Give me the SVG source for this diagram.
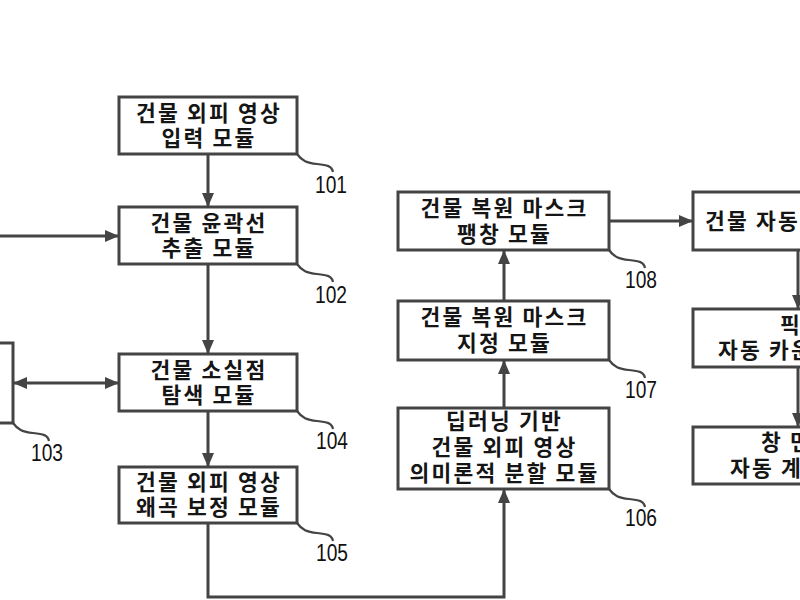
<svg xmlns="http://www.w3.org/2000/svg" width="800" height="600" viewBox="0 0 800 600">
<style>
.box{fill:#fff;stroke:#444;stroke-width:3}
.t{font-family:"Noto Sans CJK KR","Noto Sans",sans-serif;font-size:21.5px;font-weight:700;letter-spacing:2.2px;fill:#151515;text-anchor:middle}
.r{font-family:"Noto Sans CJK KR","Noto Sans",sans-serif;font-size:21.5px;font-weight:700;letter-spacing:2.2px;fill:#151515}
.n{font-family:"Liberation Sans",Arial,sans-serif;font-size:23px;fill:#111;text-anchor:middle}
.c{fill:none;stroke:#444;stroke-width:3}
.ld{fill:none;stroke:#444;stroke-width:2.2}
</style>
<defs>
<marker id="ah" markerUnits="userSpaceOnUse" markerWidth="14" markerHeight="12" refX="13" refY="6" orient="auto-start-reverse">
<path d="M0,0 L14,6 L0,12 Z" fill="#444"/>
</marker>
</defs>
<rect width="800" height="600" fill="#fff"/>
<g id="connectors">
<line class="c" x1="208" y1="154" x2="208" y2="206" marker-end="url(#ah)"/>
<line class="c" x1="208" y1="264" x2="208" y2="353" marker-end="url(#ah)"/>
<line class="c" x1="208" y1="411" x2="208" y2="466" marker-end="url(#ah)"/>
<line class="c" x1="0" y1="236" x2="118" y2="236" marker-end="url(#ah)"/>
<line class="c" x1="14" y1="383" x2="118" y2="383" marker-start="url(#ah)" marker-end="url(#ah)"/>
<polyline class="c" points="208,523 208,597 504,597 504,490" marker-end="url(#ah)"/>
<line class="c" x1="504" y1="408" x2="504" y2="361" marker-end="url(#ah)"/>
<line class="c" x1="504" y1="301" x2="504" y2="251" marker-end="url(#ah)"/>
<line class="c" x1="609" y1="221" x2="692" y2="221" marker-end="url(#ah)"/>
<line class="c" x1="798" y1="250" x2="798" y2="308" marker-end="url(#ah)"/>
<line class="c" x1="798" y1="367" x2="798" y2="426" marker-end="url(#ah)"/>
</g>
<g id="n101">
<rect class="box" x="119" y="97" width="178" height="57"/>
<text class="t" x="209" y="121">건물 외피 영상</text>
<text class="t" x="209" y="146">입력 모듈</text>
<path class="ld" d="M297,154 C302,161 307,163 317,164 C327,165 332,166 333,172"/>
<text class="n" x="331" y="193" textLength="32" lengthAdjust="spacingAndGlyphs">101</text>
</g>
<g id="n102">
<rect class="box" x="119" y="207" width="178" height="57"/>
<text class="t" x="209" y="231">건물 윤곽선</text>
<text class="t" x="209" y="256">추출 모듈</text>
<path class="ld" d="M297,264 C302,271 307,273 317,274 C327,275 332,276 333,282"/>
<text class="n" x="331" y="303" textLength="32" lengthAdjust="spacingAndGlyphs">102</text>
</g>
<g id="n103">
<rect class="box" x="-100" y="343" width="113" height="80"/>
<path class="ld" d="M13,423 C18,430 23,432 33,433 C43,434 48,435 49,441"/>
<text class="n" x="47" y="461" textLength="32" lengthAdjust="spacingAndGlyphs">103</text>
</g>
<g id="n104">
<rect class="box" x="119" y="354" width="178" height="57"/>
<text class="t" x="209" y="378">건물 소실점</text>
<text class="t" x="209" y="403">탐색 모듈</text>
<path class="ld" d="M297,411 C302,418 307,420 317,421 C327,422 332,423 333,429"/>
<text class="n" x="332" y="449" textLength="32" lengthAdjust="spacingAndGlyphs">104</text>
</g>
<g id="n105">
<rect class="box" x="119" y="467" width="178" height="56"/>
<text class="t" x="209" y="490">건물 외피 영상</text>
<text class="t" x="209" y="515">왜곡 보정 모듈</text>
<path class="ld" d="M297,523 C302,530 307,532 317,533 C327,534 332,535 333,541"/>
<text class="n" x="332" y="561" textLength="32" lengthAdjust="spacingAndGlyphs">105</text>
</g>
<g id="n106">
<rect class="box" x="398" y="408" width="211" height="81"/>
<text class="t" x="504.5" y="429">딥러닝 기반</text>
<text class="t" x="504.5" y="455">건물 외피 영상</text>
<text class="t" x="504.5" y="481">의미론적 분할 모듈</text>
<path class="ld" d="M609,489 C614,496 619,498 629,499 C639,500 644,501 645,507"/>
<text class="n" x="641" y="526" textLength="32" lengthAdjust="spacingAndGlyphs">106</text>
</g>
<g id="n107">
<rect class="box" x="398" y="301" width="211" height="59"/>
<text class="t" x="504.5" y="325">건물 복원 마스크</text>
<text class="t" x="504.5" y="351">지정 모듈</text>
<path class="ld" d="M609,360 C614,367 619,369 629,370 C639,371 644,372 645,378"/>
<text class="n" x="641" y="398" textLength="32" lengthAdjust="spacingAndGlyphs">107</text>
</g>
<g id="n108">
<rect class="box" x="398" y="192" width="211" height="58"/>
<text class="t" x="504.5" y="216">건물 복원 마스크</text>
<text class="t" x="504.5" y="242">팽창 모듈</text>
<path class="ld" d="M609,250 C614,257 619,259 629,260 C639,261 644,262 645,268"/>
<text class="n" x="641" y="288" textLength="32" lengthAdjust="spacingAndGlyphs">108</text>
</g>
<g id="n109">
<rect class="box" x="693" y="192" width="210" height="58"/>
<text class="r" x="705" y="229">건물 자동 분할 모듈</text>
</g>
<g id="n110">
<rect class="box" x="693" y="309" width="210" height="58"/>
<text class="r" x="780" y="333">픽셀</text>
<text class="r" x="718" y="358">자동 카운팅 모듈</text>
</g>
<g id="n111">
<rect class="box" x="693" y="427" width="210" height="57"/>
<text class="r" x="761" y="450">창 면적</text>
<text class="r" x="730" y="476">자동 계산 모듈</text>
</g>
</svg>
